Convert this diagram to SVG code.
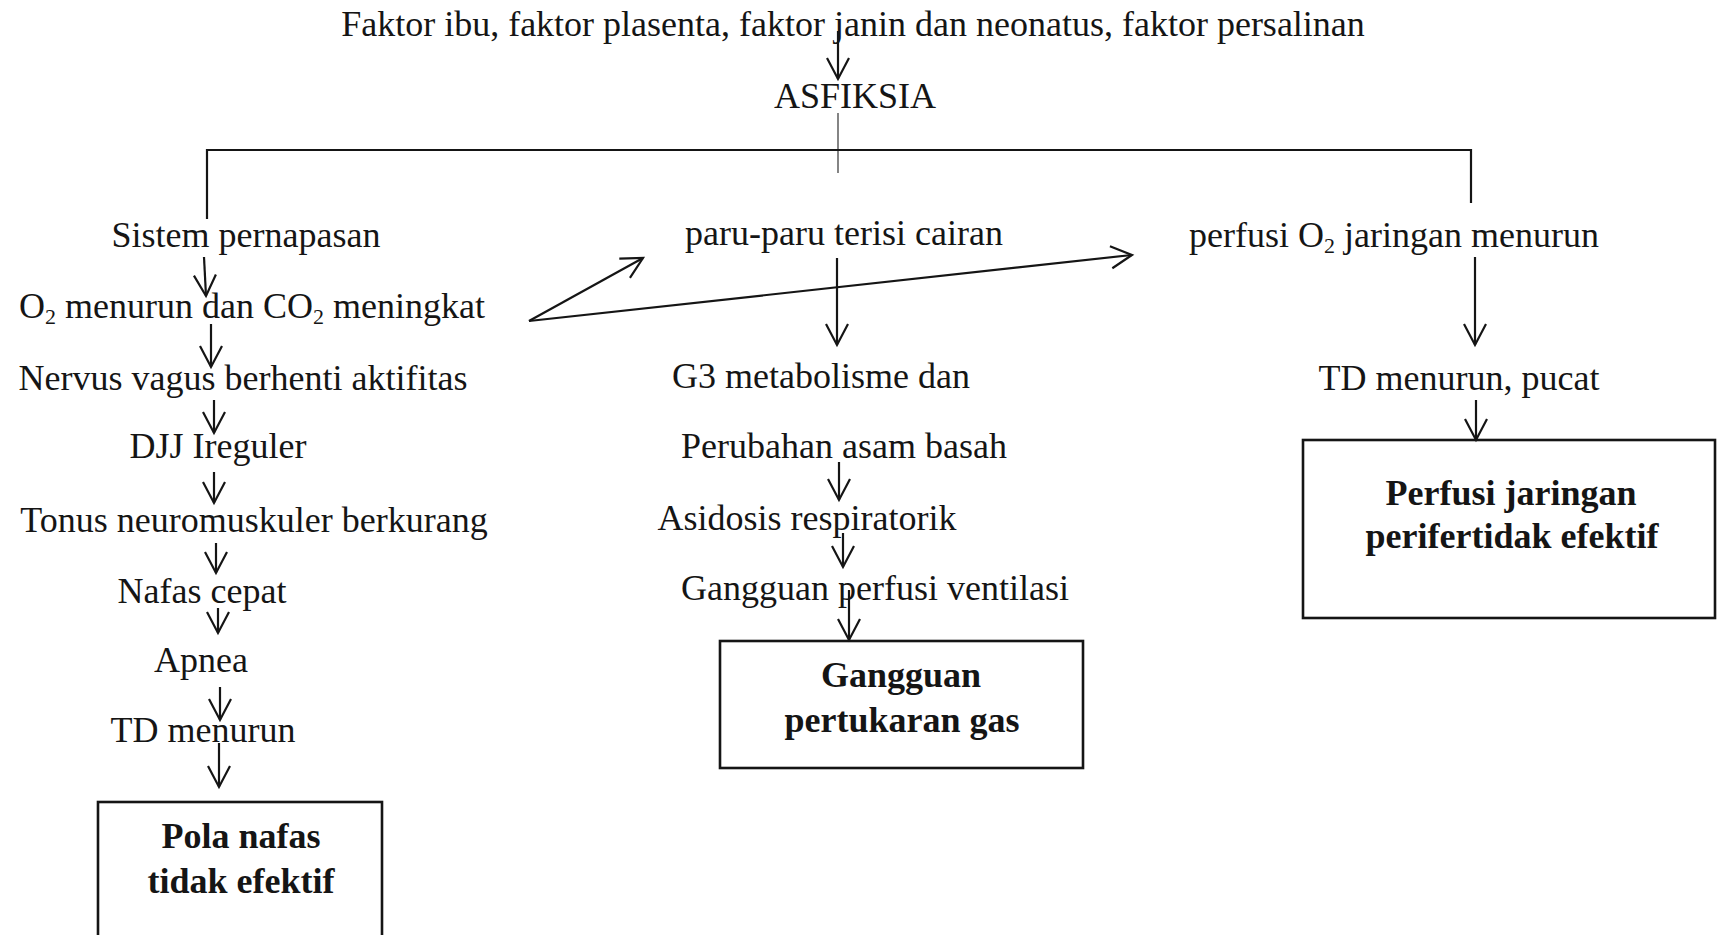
<svg xmlns="http://www.w3.org/2000/svg" width="1717" height="935" viewBox="0 0 1717 935">
<style>
text{font-family:"Liberation Serif","Times New Roman",serif;font-size:36px;fill:#151515;text-anchor:middle}
.b{font-weight:bold}
.sub{font-size:22px}
.ln{stroke:#151515;stroke-width:2.2;fill:none}
.thin{stroke:#333;stroke-width:1.2;fill:none}
.box{stroke:#151515;stroke-width:2.6;fill:none}
</style>
<defs>
<marker id="ah" markerUnits="userSpaceOnUse" markerWidth="30" markerHeight="30" viewBox="-25 -15 30 30" refX="0" refY="0" orient="auto" overflow="visible">
<path d="M-21,-11 L0,0 L-21,11" fill="none" stroke="#151515" stroke-width="2.2"/>
</marker>
</defs>
<rect width="1717" height="935" fill="#fff"/>

<g id="connectors">
<line class="ln" x1="838" y1="31" x2="838" y2="79" marker-end="url(#ah)"/>
<line class="thin" x1="838" y1="113" x2="838" y2="173"/>
<path class="ln" d="M207,219 V150 H1471 V203"/>
<line class="ln" x1="204" y1="257" x2="206" y2="296" marker-end="url(#ah)"/>
<line class="ln" x1="211" y1="324" x2="211" y2="367" marker-end="url(#ah)"/>
<line class="ln" x1="214" y1="400" x2="214" y2="433" marker-end="url(#ah)"/>
<line class="ln" x1="214" y1="472" x2="214" y2="503" marker-end="url(#ah)"/>
<line class="ln" x1="216" y1="543" x2="216" y2="573" marker-end="url(#ah)"/>
<line class="ln" x1="218" y1="608" x2="218" y2="633" marker-end="url(#ah)"/>
<line class="ln" x1="220" y1="687" x2="220" y2="720" marker-end="url(#ah)"/>
<line class="ln" x1="219" y1="743" x2="219" y2="787" marker-end="url(#ah)"/>
<line class="ln" x1="529" y1="321" x2="643" y2="258" marker-end="url(#ah)"/>
<line class="ln" x1="529" y1="321" x2="1132" y2="255" marker-end="url(#ah)"/>
<line class="ln" x1="837" y1="258" x2="837" y2="345" marker-end="url(#ah)"/>
<line class="ln" x1="839" y1="462" x2="839" y2="500" marker-end="url(#ah)"/>
<line class="ln" x1="843" y1="533" x2="843" y2="567" marker-end="url(#ah)"/>
<line class="ln" x1="849" y1="590" x2="849" y2="640" marker-end="url(#ah)"/>
<line class="ln" x1="1475" y1="257" x2="1475" y2="345" marker-end="url(#ah)"/>
<line class="ln" x1="1476" y1="400" x2="1476" y2="440" marker-end="url(#ah)"/>
</g>

<g id="faktor"><text x="853" y="36">Faktor ibu, faktor plasenta, faktor janin dan neonatus, faktor persalinan</text></g>
<g id="asfiksia"><text x="855" y="108">ASFIKSIA</text></g>

<g id="sistem"><text x="246" y="247">Sistem pernapasan</text></g>
<g id="o2"><text x="252" y="318">O<tspan class="sub" dy="6">2</tspan><tspan dy="-6"> menurun dan CO</tspan><tspan class="sub" dy="6">2</tspan><tspan dy="-6"> meningkat</tspan></text></g>
<g id="nervus"><text x="243" y="390">Nervus vagus berhenti aktifitas</text></g>
<g id="djj"><text x="218" y="458">DJJ Ireguler</text></g>
<g id="tonus"><text x="254" y="532">Tonus neuromuskuler berkurang</text></g>
<g id="nafas"><text x="202" y="603">Nafas cepat</text></g>
<g id="apnea"><text x="201" y="672">Apnea</text></g>
<g id="td1"><text x="203" y="742">TD menurun</text></g>
<g id="pola"><rect class="box" x="98" y="802" width="284" height="150"/><text class="b" x="241" y="848">Pola nafas</text><text class="b" x="241" y="893">tidak efektif</text></g>

<g id="paru"><text x="844" y="245">paru-paru terisi cairan</text></g>
<g id="g3"><text x="821" y="388">G3 metabolisme dan</text></g>
<g id="perubahan"><text x="844" y="458">Perubahan asam basah</text></g>
<g id="asidosis"><text x="807" y="530">Asidosis respiratorik</text></g>
<g id="gangguan-pv"><text x="875" y="600">Gangguan perfusi ventilasi</text></g>
<g id="gangguan-gas"><rect class="box" x="720" y="641" width="363" height="127"/><text class="b" x="901" y="687">Gangguan</text><text class="b" x="902" y="732">pertukaran gas</text></g>

<g id="perfusi"><text x="1394" y="247">perfusi O<tspan class="sub" dy="6">2</tspan><tspan dy="-6"> jaringan menurun</tspan></text></g>
<g id="td2"><text x="1459" y="390">TD menurun, pucat</text></g>
<g id="perfusi-jar"><rect class="box" x="1303" y="440" width="412" height="178"/><text class="b" x="1511" y="505">Perfusi jaringan</text><text class="b" x="1512" y="548">perifertidak efektif</text></g>
</svg>
